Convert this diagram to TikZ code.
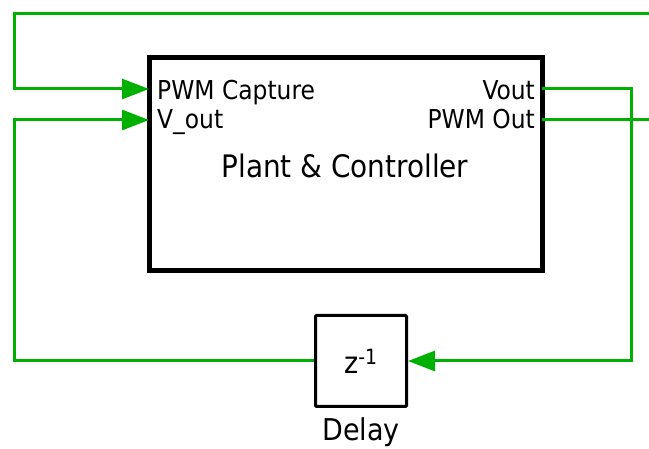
\documentclass[tikz,border=0pt]{standalone}
\usepackage{fontspec}
\setmainfont{DejaVu Sans Condensed}
\usepackage{xcolor}
\usetikzlibrary{arrows.meta,positioning}
\definecolor{wiregreen}{RGB}{0,176,0}

\begin{document}
\begin{tikzpicture}[
  x=1pt, y=-1pt,
  plant/.style={
    rectangle,
    draw,
    line width=5pt,
    minimum width=393pt,
    minimum height=213pt,
    inner sep=0pt
  },
  delaybox/.style={
    rectangle,
    draw,
    line width=3pt,
    rounded corners=1pt,
    minimum width=91pt,
    minimum height=91pt,
    inner sep=0pt,
    font=\fontsize{30}{34}\selectfont
  },
  portlabel/.style={inner sep=0pt, font=\fontsize{26}{30}\selectfont},
  biglabel/.style={inner sep=0pt, font=\fontsize{31}{36}\selectfont},
  wire/.style={draw=wiregreen, line width=3pt},
  signal/.style={wire, -{Triangle[length=27pt,width=20pt]}}
]
\useasboundingbox (0,0) rectangle (649,449);

% blocks
\node[plant] (plant) at (345.5,164.5) {};
\node[biglabel, anchor=base] (plantlbl) at (345,178) {Plant \& Controller};
\node[delaybox] (delay) at (361,361) {z\textsuperscript{-1}};
\node[biglabel, anchor=base, font=\fontsize{30}{34}\selectfont] (delaylbl) at (361,441) {Delay};

% ports
\coordinate (pwmin) at (149,89);
\coordinate (vin) at (149,120);
\coordinate (vout) at (542,89);
\coordinate (pwmout) at (542,120);
\node[portlabel, anchor=base west] (lblcap) at (157,100) {PWM Capture};
\node[portlabel, anchor=base west] (lblvin) at (157,129) {V\_out};
\node[portlabel, anchor=base east] (lblvout) at (535,100) {Vout};
\node[portlabel, anchor=base east] (lblpwm) at (535,129) {PWM Out};

% wire corners and free ends
\coordinate (topin) at (649,14);
\coordinate (topleft) at (14.5,14);
\coordinate (botleft) at (14.5,361);
\coordinate (rightturn) at (631.5,89);
\coordinate (pwmend) at (649,120);

% connections
\draw[signal] (topin) -- (topleft) |- (pwmin);
\draw[signal] (delay.west) -- (botleft) |- (vin);
\draw[signal] (vout) -- (rightturn) |- (delay.east);
\draw[wire] (pwmout) -- (pwmend);
\end{tikzpicture}
\end{document}
